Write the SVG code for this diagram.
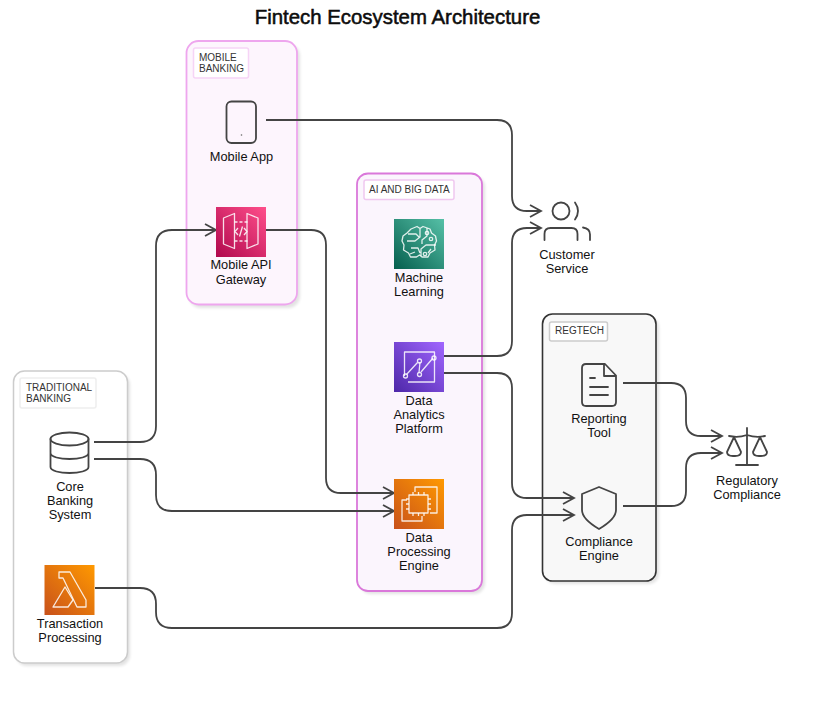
<svg xmlns="http://www.w3.org/2000/svg" width="823" height="704" viewBox="0 0 823 704">
<style>
text{font-family:"Liberation Sans",Arial,sans-serif;font-size:12.8px;fill:#111;text-anchor:middle}
.title{font-size:20.4px;stroke:#000;stroke-width:.5px}
.gl{font-size:10px;text-anchor:start;fill:#333}
.shadow{fill:#000;opacity:.11;filter:url(#blur)}
.ico{fill:none;stroke:#fff;stroke-width:1.3;opacity:.85;stroke-linejoin:round}
.out{fill:none;stroke:#444;stroke-width:1.8;stroke-linejoin:round;stroke-linecap:round}
.conn{fill:none;stroke:#444;stroke-width:1.8;marker-end:url(#arrow)}
</style>
<defs>
<filter id="blur" x="-10%" y="-10%" width="120%" height="120%"><feGaussianBlur stdDeviation="1.5"/></filter>
<marker id="arrow" markerUnits="userSpaceOnUse" markerWidth="16" markerHeight="16" refX="12" refY="8" orient="auto"><path d="M1 2 L12 8 L1 14" fill="none" stroke="#444" stroke-width="1.8"/></marker>
<linearGradient id="pink" x1="0" y1="1" x2="1" y2="0"><stop offset="0" stop-color="#b0084d"/><stop offset="1" stop-color="#ff4f8b"/></linearGradient>
<linearGradient id="green" x1="0" y1="1" x2="1" y2="0"><stop offset="0" stop-color="#055f4e"/><stop offset="1" stop-color="#56c0a7"/></linearGradient>
<linearGradient id="purple" x1="0" y1="1" x2="1" y2="0"><stop offset="0" stop-color="#4d27a8"/><stop offset="1" stop-color="#a166ff"/></linearGradient>
<linearGradient id="orange" x1="0" y1="1" x2="1" y2="0"><stop offset="0" stop-color="#c8511b"/><stop offset="1" stop-color="#ff9900"/></linearGradient>
</defs>
<rect width="823" height="704" fill="#fff"/>
<text class="title" x="397.500" y="24">Fintech Ecosystem Architecture</text>

<g id="group-traditional">
<rect class="shadow" x="16" y="374" width="114" height="292" rx="11"/>
<rect x="13.500" y="371" width="114" height="292" rx="11" fill="#fff" stroke="#ccc" stroke-width="1.500"/>
<rect x="20" y="378" width="76" height="30" rx="2" fill="#fff" stroke="#eee" stroke-width="1.500"/>
<text class="gl" x="26" y="391">TRADITIONAL</text><text class="gl" x="26" y="402">BANKING</text>
</g>
<g id="group-mobile">
<rect class="shadow" x="189" y="44" width="111" height="264" rx="12"/>
<rect x="186.500" y="41" width="110.500" height="263.500" rx="12" fill="#fdf5fd" stroke="#eea6ee" stroke-width="1.800"/>
<rect x="193.500" y="48" width="55" height="30" rx="2" fill="#fff" stroke="#f6d4f6" stroke-width="1.500"/>
<text class="gl" x="199" y="61">MOBILE</text><text class="gl" x="199" y="72">BANKING</text>
</g>
<g id="group-ai">
<rect class="shadow" x="360" y="176" width="125" height="418" rx="11"/>
<rect x="357" y="173.500" width="125" height="417.500" rx="11" fill="#fbf5fd" stroke="#da78da" stroke-width="1.800"/>
<rect x="364" y="180" width="90" height="19.500" rx="2" fill="#fff" stroke="#f0c8f0" stroke-width="1.500"/>
<text class="gl" x="369" y="193">AI AND BIG DATA</text>
</g>
<g id="group-regtech">
<rect class="shadow" x="545" y="317" width="114" height="267" rx="10"/>
<rect x="542.500" y="314" width="113.500" height="267" rx="10" fill="#f8f8f8" stroke="#333" stroke-width="1.600"/>
<rect x="549.500" y="322" width="58" height="19" rx="2" fill="#fff" stroke="#ccc" stroke-width="1.500"/>
<text class="gl" x="555" y="334">REGTECH</text>
</g>

<g id="connectors">
<path class="conn" d="M94 442H140q16 0 16-16V246q0-16 16-16H216"/>
<path class="conn" d="M94 459H140q16 0 16 16V495q0 16 16 16H394"/>
<path class="conn" d="M95 588H140q16 0 16 16V612q0 16 16 16H497q15 0 15-15V530q0-15 15-15H574"/>
<path class="conn" d="M266 230H311q15 0 15 15V478q0 15 15 15H394"/>
<path class="conn" d="M266 120H497q15 0 15 15V196q0 15 15 15H541"/>
<path class="conn" d="M444 356H497q15 0 15-15V243q0-15 15-15H541"/>
<path class="conn" d="M444 373H497q15 0 15 15V483q0 15 15 15H574"/>
<path class="conn" d="M623 383H671q15 0 15 15V421q0 15 15 15H722"/>
<path class="conn" d="M623 506H671q15 0 15-15V468q0-15 15-15H722"/>
</g>

<g id="node-mobile-app">
<rect class="out" x="226.500" y="101.500" width="29.500" height="41.500" rx="5"/>
<circle cx="241.500" cy="135" r=".8" fill="#666"/>
<text x="241.500" y="161">Mobile App</text>
</g>
<g id="node-api-gateway">
<rect x="216" y="207" width="50" height="50" fill="url(#pink)"/>
<path class="ico" d="M223.500 218l11-4.500v35l-11-4.500zM258 218l-11-4.500v35l11-4.500z"/>
<path class="ico" d="M234.500 222h13M234.500 241h13" stroke-dasharray="3 2"/>
<path class="ico" d="M238 228l-3 3.500 3 3.500M244 228l3 3.500-3 3.500M242.500 226.500l-3 10"/>
<text x="241" y="269">Mobile API</text><text x="241" y="284">Gateway</text>
</g>
<g id="node-ml">
<rect x="394" y="219" width="50" height="50" fill="url(#green)"/>
<path class="ico" d="M411 229l6-2.500 3 2 3-2 7 2.500 1.500 4 4 3 1 5-2 4 .5 5-5 3-2 4h-6l-2.500-2-3 2h-6l-2-4-5-3 .5-5-2-4 1-5 4-3z"/>
<path class="ico" d="M420 229v8l-5 4h-8M408 234h8l3 3M427 228v8l-5 4v4M436 245h-10l-5 4v7M411 248h7l2 5M431 249l-3 4M410 254l5-2"/>
<circle class="ico" cx="427" cy="233" r="1.700"/><circle class="ico" cx="431" cy="239" r="1.700"/><circle class="ico" cx="425" cy="254" r="1.700"/>
<text x="419" y="282">Machine</text><text x="419" y="296">Learning</text>
</g>
<g id="node-analytics">
<rect x="394" y="342" width="50" height="50" fill="url(#purple)"/>
<path class="ico" d="M404.500 376V352h30v30H408"/>
<path class="ico" d="M406.500 374.500l11-12M420 362l-1 10.500M421 372l12-14"/>
<circle class="ico" cx="405.500" cy="376" r="2"/><circle class="ico" cx="419.500" cy="361" r="2"/><circle class="ico" cx="419.500" cy="374.500" r="2"/><circle class="ico" cx="434" cy="358" r="2"/>
<text x="419" y="405">Data</text><text x="419" y="419">Analytics</text><text x="419" y="433">Platform</text>
</g>
<g id="node-processing">
<rect x="394" y="479" width="50" height="50" fill="url(#orange)"/>
<path class="ico" d="M415 492v-5h22v26h-7M407 500h-5v21h20v-5"/>
<rect class="ico" x="409" y="495" width="19" height="18"/>
<path class="ico" d="M413 492v3M418.500 492v3M424 492v3M413 513v3M418.500 513v3M424 513v3M406 499h3M406 504h3M406 509h3M428 499h3M428 504h3M428 509h3"/>
<text x="419" y="542">Data</text><text x="419" y="556">Processing</text><text x="419" y="570">Engine</text>
</g>
<g id="node-customer">
<circle class="out" cx="561" cy="211" r="8.500"/>
<path class="out" d="M575 202.500q6 8.500 0 17"/>
<path class="out" d="M544.500 240v-6q0-6 6-6h21q6 0 6 6v6M583 227.500q7 1 7 7v5.500"/>
<text x="567" y="259">Customer</text><text x="567" y="273">Service</text>
</g>
<g id="node-reporting">
<path class="out" d="M586 364h19l11 11.500V402q0 4-4 4H586q-4 0-4-4V368q0-4 4-4zM604 364v12h12"/>
<path class="out" d="M590 378h5M590 387h18M590 395h18"/>
<text x="599" y="423">Reporting</text><text x="599" y="437">Tool</text>
</g>
<g id="node-compliance">
<path class="out" d="M599 487l17 7V510q0 9-17 19q-17-10-17-19V494z"/>
<text x="599" y="546">Compliance</text><text x="599" y="560">Engine</text>
</g>
<g id="node-core">
<ellipse class="out" cx="69.500" cy="439" rx="19" ry="6.500"/>
<path class="out" d="M50.500 439V467c0 8 38 8 38 0V439M50.500 453c0 8 38 8 38 0"/>
<text x="70" y="491">Core</text><text x="70" y="505">Banking</text><text x="70" y="519">System</text>
</g>
<g id="node-lambda">
<rect x="44.500" y="565" width="50" height="50" fill="url(#orange)"/>
<path class="ico" d="M59 572H70L86 600V607H77L63 578H59Z"/>
<path class="ico" d="M53 607L65 587L73 600L68 607Z"/>
<text x="70" y="628">Transaction</text><text x="70" y="642">Processing</text>
</g>
<g id="node-regulatory">
<path class="out" d="M747 428V465M736 465H758M729 436q9 2 18-1q9 3 18 1"/>
<path class="out" d="M734 437l-7 15q0 4 6 4h2q6 0 6-4zM760 437l-7 15q0 4 6 4h2q6 0 6-4z"/>
<text x="747" y="485">Regulatory</text><text x="747" y="499">Compliance</text>
</g>
</svg>
